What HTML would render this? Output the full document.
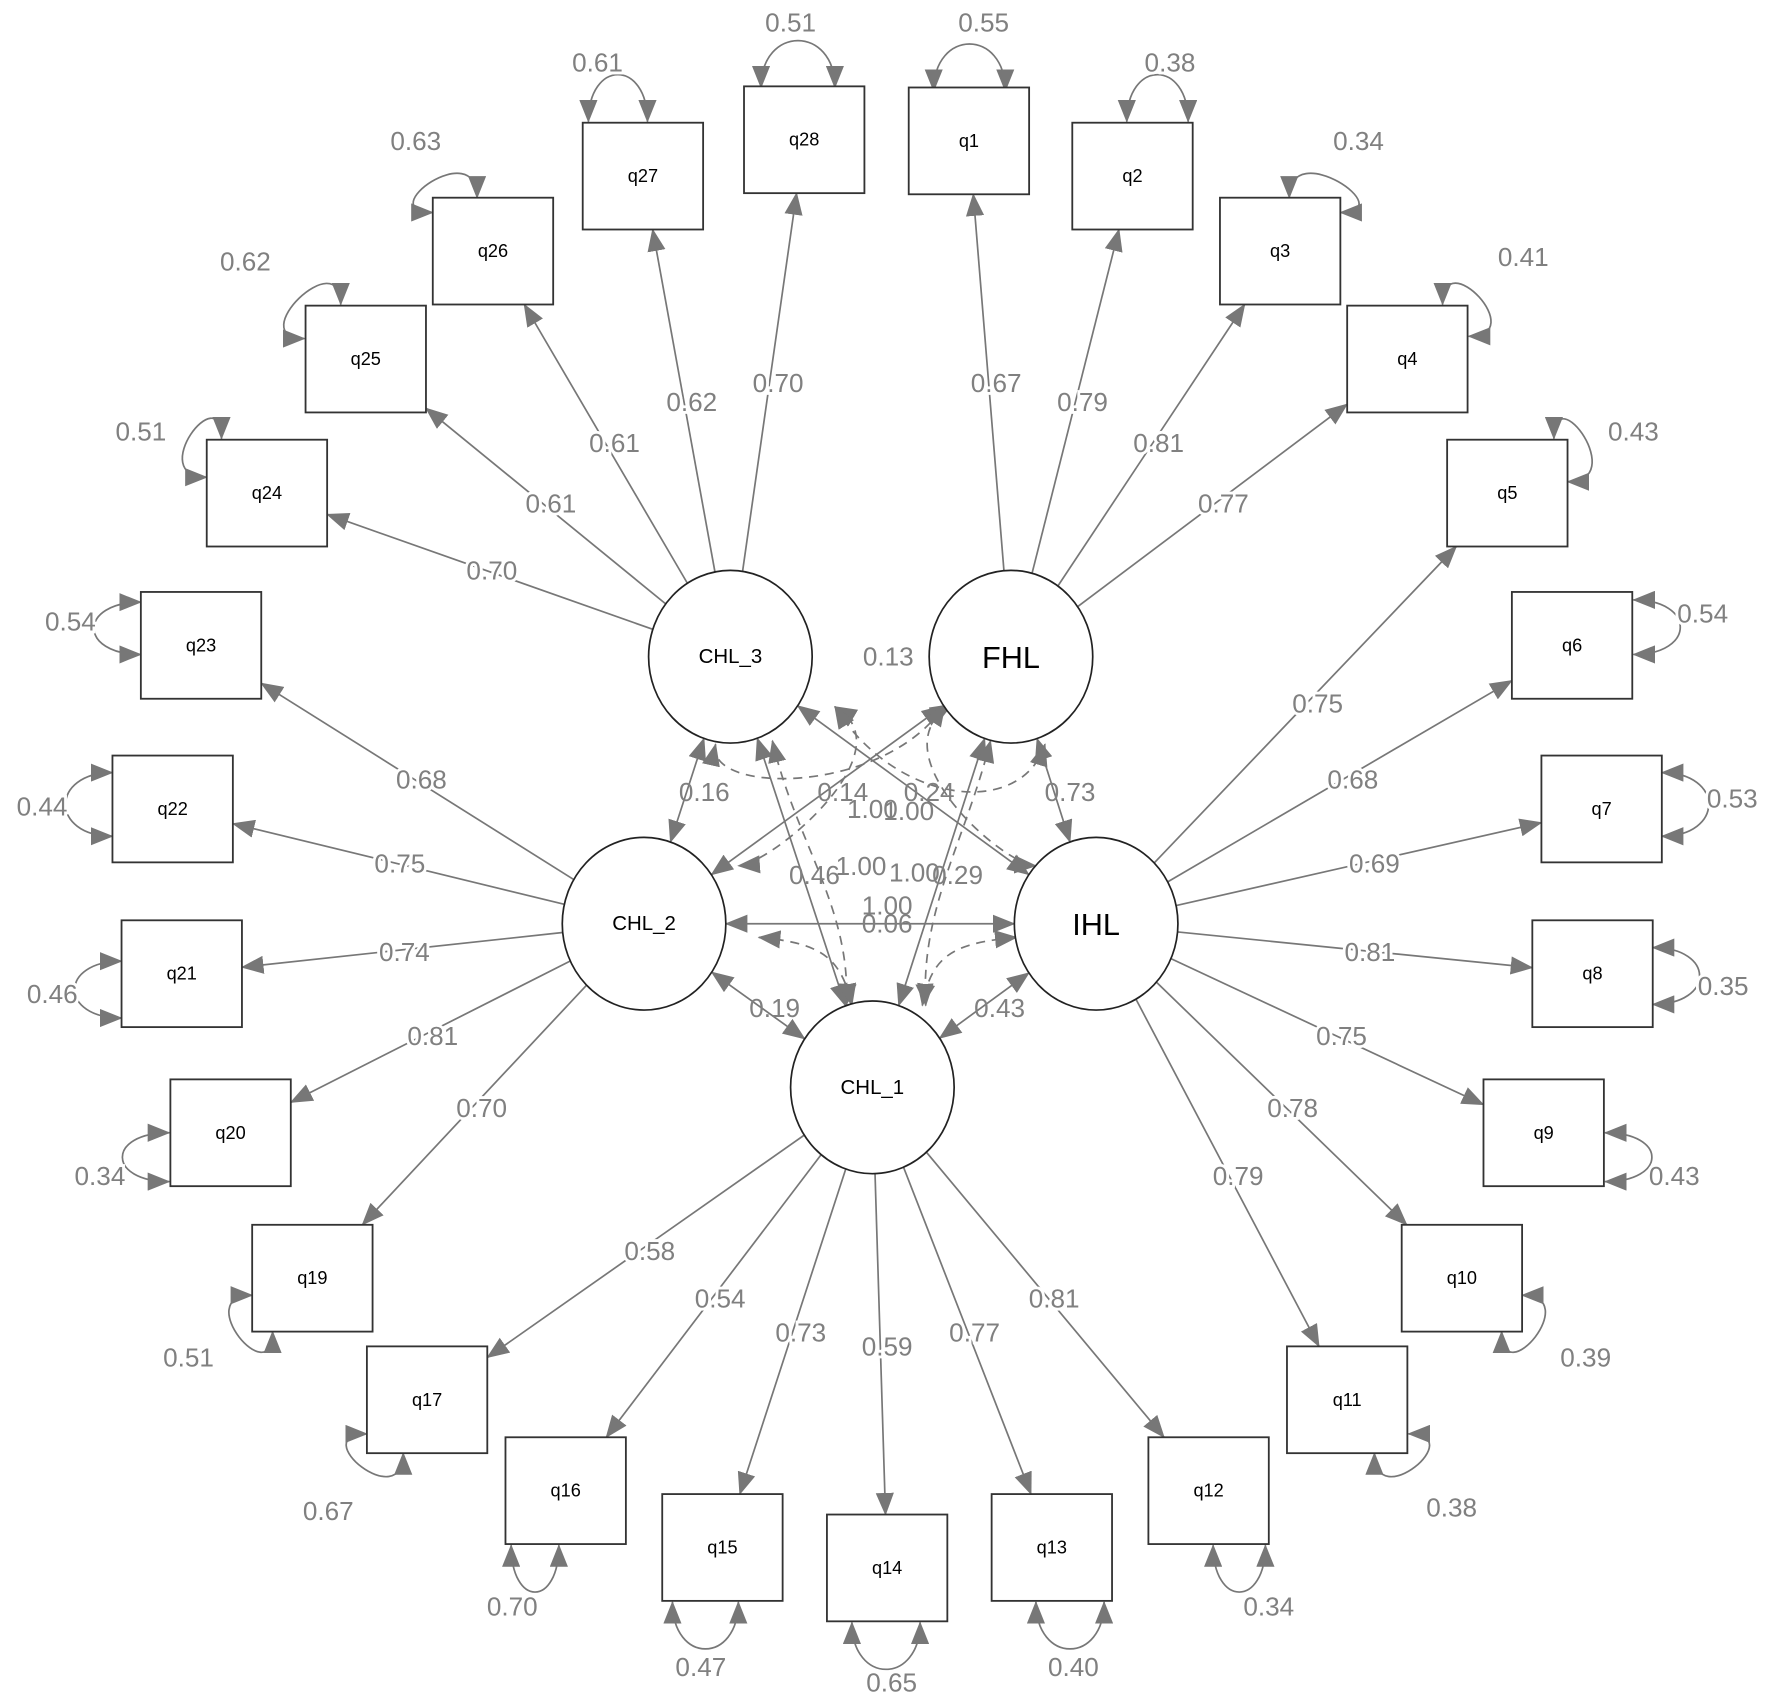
<!DOCTYPE html>
<html><head><meta charset="utf-8"><style>
html,body{margin:0;padding:0;background:#fff;}
svg{display:block;}
text{font-family:"Liberation Sans",Arial,sans-serif;}
.n{fill:#808080;font-size:23px;text-anchor:middle;dominant-baseline:central;paint-order:stroke;stroke:#fff;stroke-width:5px;}
.b{fill:#000;font-size:16px;text-anchor:middle;dominant-baseline:central;}
</style></head><body>
<svg id="s" width="1772" height="1702" viewBox="0 0 1560 1498" preserveAspectRatio="none" xmlns="http://www.w3.org/2000/svg">
<defs>
<marker id="a" viewBox="0 0 20 16" refX="19" refY="8" markerWidth="20" markerHeight="16" markerUnits="userSpaceOnUse" orient="auto-start-reverse">
<path d="M0,0 L20,8 L0,16 z" fill="#777"/></marker>
</defs>
<g id="g"></g>
</svg>
<script>
var NS="http://www.w3.org/2000/svg",g=document.getElementById('g');
function el(t,a,txt){var e=document.createElementNS(NS,t);for(var k in a)e.setAttribute(k,a[k]);if(txt!==undefined)e.textContent=txt;g.appendChild(e);return e;}
var L={CHL_3:[643,578],FHL:[890,578],CHL_2:[567,813],IHL:[965,813],CHL_1:[768,957]};
var RX=72,RY=76,HW=53,HH=47;
var B={q28:[708,123],q1:[853,124],q27:[566,155],q2:[997,155],q26:[434,221],q3:[1127,221],q25:[322,316],q4:[1239,316],q24:[235,434],q5:[1327,434],q23:[177,568],q6:[1384,568],q22:[152,712],q7:[1410,712],q21:[160,857],q8:[1402,857],q20:[203,997],q9:[1359,997],q19:[275,1125],q10:[1287,1125],q17:[376,1232],q11:[1186,1232],q16:[498,1312],q12:[1064,1312],q15:[636,1362],q13:[926,1362],q14:[781,1380]};
var LD=[["CHL_3","q24","0.70",433,502],["CHL_3","q25","0.61",485,443],["CHL_3","q26","0.61",541,390],["CHL_3","q27","0.62",609,354],["CHL_3","q28","0.70",685,337],
["FHL","q1","0.67",877,337],["FHL","q2","0.79",953,354],["FHL","q3","0.81",1020,390],["FHL","q4","0.77",1077,443],
["IHL","q5","0.75",1160,619],["IHL","q6","0.68",1191,686],["IHL","q7","0.69",1210,760],["IHL","q8","0.81",1206,838],["IHL","q9","0.75",1181,912],["IHL","q10","0.78",1138,975],["IHL","q11","0.79",1090,1035],
["CHL_2","q23","0.68",371,686],["CHL_2","q22","0.75",352,760],["CHL_2","q21","0.74",356,838],["CHL_2","q20","0.81",381,912],["CHL_2","q19","0.70",424,975],
["CHL_1","q17","0.58",572,1101],["CHL_1","q16","0.54",634,1143],["CHL_1","q15","0.73",705,1173],["CHL_1","q14","0.59",781,1185],["CHL_1","q13","0.77",858,1173],["CHL_1","q12","0.81",928,1143]];
function ep(c,tx,ty){var dx=tx-c[0],dy=ty-c[1],t=1/Math.sqrt((dx/RX)*(dx/RX)+(dy/RY)*(dy/RY));return [c[0]+dx*t,c[1]+dy*t];}
function bp(b,tx,ty){var dx=tx-b[0],dy=ty-b[1],s=Math.min(HW/Math.abs(dx||1e-6),HH/Math.abs(dy||1e-6));return [b[0]+dx*s,b[1]+dy*s];}
function ln(p,q,ms,me,dash){var a={x1:p[0],y1:p[1],x2:q[0],y2:q[1],stroke:"#777","stroke-width":1.5};if(me)a["marker-end"]="url(#a)";if(ms)a["marker-start"]="url(#a)";if(dash)a["stroke-dasharray"]="8,6";el("line",a);}
LD.forEach(function(d){var c=L[d[0]],b=B[d[1]];var p=ep(c,b[0],b[1]),q=bp(b,c[0],c[1]);ln(p,q,0,1);});
function cov(a,b){var A=L[a],Bc=L[b];ln(ep(A,Bc[0],Bc[1]),ep(Bc,A[0],A[1]),1,1);}
[["CHL_3","CHL_2"],["CHL_3","IHL"],["FHL","CHL_2"],["FHL","IHL"],["CHL_3","CHL_1"],["FHL","CHL_1"],["CHL_2","IHL"],["CHL_2","CHL_1"],["IHL","CHL_1"]].forEach(function(p){cov(p[0],p[1]);});
function dl(d){el("path",{d:d,stroke:"#777","stroke-width":1.5,fill:"none","stroke-dasharray":"8,6","marker-start":"url(#a)","marker-end":"url(#a)"});}
dl("M735,622 C800,660 680,760 650,762");
dl("M838,620 C770,660 880,760 912,762");
dl("M680,652 C700,740 750,800 745,885");
dl("M872,652 C850,740 810,800 815,885");
dl("M668,825 C720,830 740,840 750,885");
dl("M895,825 C840,830 820,840 812,885");
dl("M630,655 C620,700 780,700 832,620");
dl("M920,655 C900,720 790,710 735,622");
var R={q28:[[670,77,'u'],[735,77,'u']],q1:[[822,80,'u'],[885,80,'u']],q27:[[518,107,'u'],[570,107,'u']],q2:[[992,107,'u'],[1046,107,'u']],
q26:[[381,187,'l'],[420,174,'u']],q3:[[1135,174,'u'],[1180,187,'r']],q25:[[268,298,'l'],[300,268,'u']],q4:[[1270,268,'u'],[1293,296,'r']],
q24:[[195,386,'u'],[182,420,'l']],q5:[[1368,386,'u'],[1380,424,'r']],q23:[[124,530,'l'],[124,576,'l']],q6:[[1438,528,'r'],[1438,576,'r']],
q22:[[99,680,'l'],[99,736,'l']],q7:[[1463,680,'r'],[1463,736,'r']],q21:[[107,846,'l'],[107,896,'l']],q8:[[1455,834,'r'],[1455,884,'r']],
q20:[[149,997,'l'],[149,1040,'l']],q9:[[1413,997,'r'],[1413,1040,'r']],q19:[[222,1140,'l'],[240,1172,'d']],q10:[[1340,1140,'r'],[1322,1172,'d']],
q17:[[323,1262,'l'],[355,1279,'d']],q11:[[1210,1279,'d'],[1240,1262,'r']],q16:[[450,1360,'d'],[492,1360,'d']],q12:[[1068,1360,'d'],[1114,1360,'d']],
q15:[[592,1410,'d'],[650,1410,'d']],q13:[[912,1410,'d'],[972,1410,'d']],q14:[[750,1428,'d'],[810,1428,'d']]};
var N={u:[0,-1],d:[0,1],l:[-1,0],r:[1,0]},K=55;
for(var k in R){var a=R[k][0],b=R[k][1],na=N[a[2]],nb=N[b[2]];
el("path",{d:"M"+a[0]+","+a[1]+" C"+(a[0]+na[0]*K)+","+(a[1]+na[1]*K)+" "+(b[0]+nb[0]*K)+","+(b[1]+nb[1]*K)+" "+b[0]+","+b[1],stroke:"#777","stroke-width":1.5,fill:"none","marker-start":"url(#a)","marker-end":"url(#a)"});}
for(var k in B){var b=B[k];el("rect",{x:b[0]-HW,y:b[1]-HH,width:HW*2,height:HH*2,fill:"#fff",stroke:"#333","stroke-width":1.6});el("text",{x:b[0],y:b[1],"class":"b"},k);}
for(var k in L){var c=L[k];el("ellipse",{cx:c[0],cy:c[1],rx:RX,ry:RY,fill:"#fff",stroke:"#222","stroke-width":1.5});
var big=(k=="FHL"||k=="IHL");el("text",{x:c[0],y:c[1]+(big?1:0),"class":"b",style:"font-size:"+(big?"27px":"18px")},k);}
LD.forEach(function(d){el("text",{x:d[3],y:d[4],"class":"n"},d[2]);});
[["0.51",696,20],["0.55",866,20],["0.61",526,55],["0.38",1030,55],["0.63",366,124],["0.34",1196,124],["0.62",216,230],["0.41",1341,226],["0.51",124,380],["0.43",1438,380],["0.54",62,547],["0.54",1499,540],["0.44",37,710],["0.53",1525,703],["0.46",46,875],["0.35",1517,868],["0.34",88,1035],["0.43",1474,1035],["0.51",166,1195],["0.39",1396,1195],["0.67",289,1330],["0.38",1278,1327],["0.70",451,1414],["0.34",1117,1414],["0.47",617,1467],["0.40",945,1467],["0.65",785,1481]].forEach(function(d){el("text",{x:d[1],y:d[2],"class":"n"},d[0]);});
[["0.13",782,578],["0.16",620,697],["0.14",742,697],["0.24",818,697],["0.73",942,697],["1.00",768,712],["1.00",800,714],["0.46",717,770],["1.00",758,762],["1.00",805,768],["0.29",843,770],["1.00",781,797],["0.06",781,813],["0.19",682,887],["0.43",880,887]].forEach(function(d){el("text",{x:d[1],y:d[2],"class":"n",style:"stroke-width:0"},d[0]);});
</script>
</body></html>
